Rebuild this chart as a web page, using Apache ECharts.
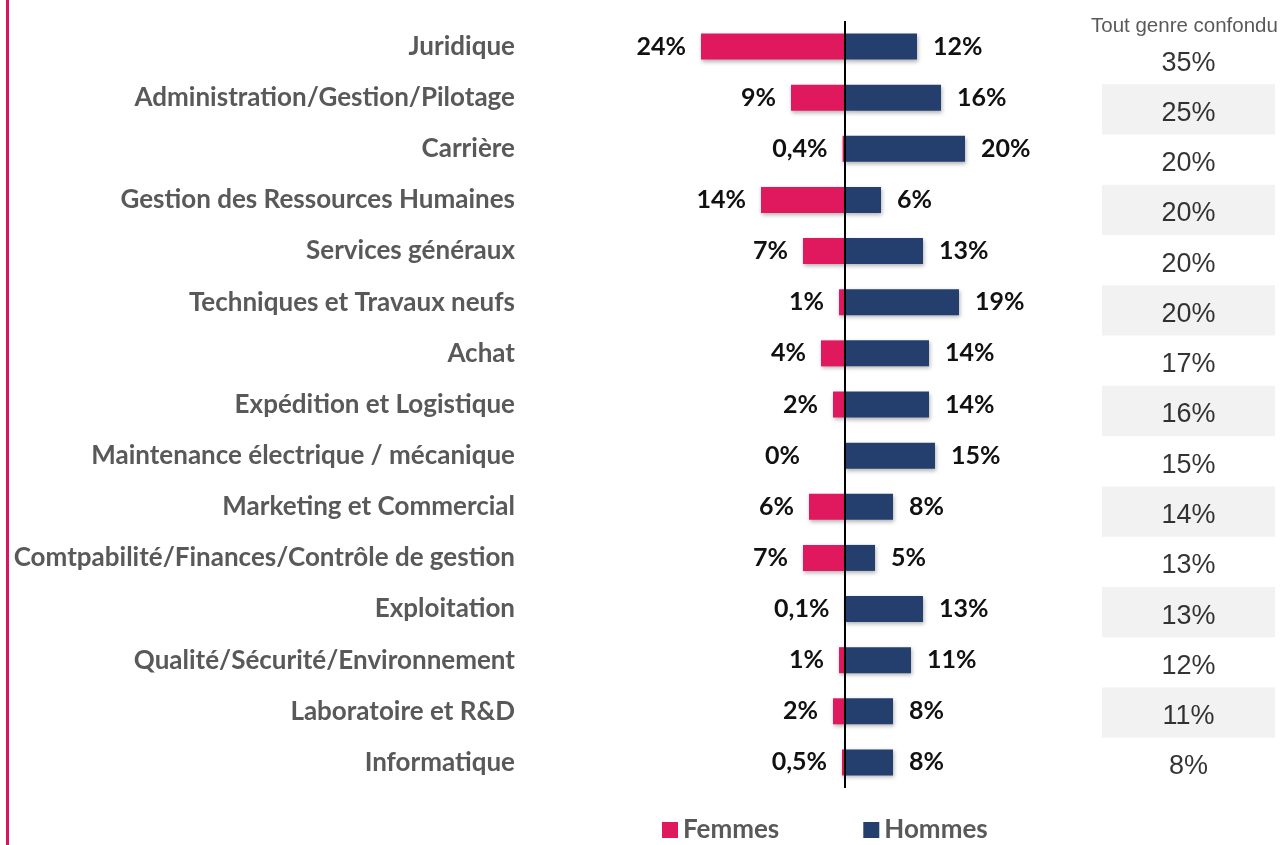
<!DOCTYPE html>
<html>
<head>
<meta charset="utf-8">
<title>Répartition par genre</title>
<script src="https://cdn.jsdelivr.net/npm/echarts@6/dist/echarts.min.js"></script>
<style>
  html, body { margin: 0; padding: 0; background: #fff; }
  #chart { width: 1286px; height: 845px; }
</style>
</head>
<body>
<div id="chart"></div>
<script>
// métiers, du haut vers le bas
var categories = [
  'Juridique',
  'Administration/Gestion/Pilotage',
  'Carrière',
  'Gestion des Ressources Humaines',
  'Services généraux',
  'Techniques et Travaux neufs',
  'Achat',
  'Expédition et Logistique',
  'Maintenance électrique / mécanique',
  'Marketing et Commercial',
  'Comtpabilité/Finances/Contrôle de gestion',
  'Exploitation',
  'Qualité/Sécurité/Environnement',
  'Laboratoire et R&D',
  'Informatique'
];
var femmes = [24, 9, 0.4, 14, 7, 1, 4, 2, 0, 6, 7, 0.1, 1, 2, 0.5];
var hommes = [12, 16, 20, 6, 13, 19, 14, 14, 15, 8, 5, 13, 11, 8, 8];
var toutGenre = [35, 25, 20, 20, 20, 20, 17, 16, 15, 14, 13, 13, 12, 11, 8];

var PINK = '#E0195F';
var NAVY = '#243F6E';

function pct(v) {
  return String(Math.abs(v)).replace('.', ',') + '%';
}

var barShadow = {
  shadowColor: 'rgba(0,0,0,0.3)',
  shadowBlur: 4,
  shadowOffsetX: 1,
  shadowOffsetY: 2
};

var myChart = echarts.init(document.getElementById('chart'));

var option = {
  animation: false,
  graphic: [{
    // liseré rose à gauche
    type: 'rect',
    left: 6,
    top: 0,
    shape: { width: 3, height: 845 },
    style: { fill: '#D6175E' },
    silent: true
  }],
  title: {
    text: 'Tout genre confondu',
    left: 1086,
    top: 11,
    textStyle: {
      fontFamily: 'Liberation Sans',
      fontWeight: 'normal',
      fontSize: 20.5,
      color: '#595959'
    }
  },
  legend: {
    left: 657,
    top: 812,
    itemWidth: 16,
    itemHeight: 16,
    itemGap: 84,
    icon: 'rect',
    textStyle: {
      fontFamily: 'Lato',
      fontWeight: 'bold',
      fontSize: 26,
      color: '#595959'
    },
    data: ['Femmes', 'Hommes']
  },
  grid: [
    { left: 545, width: 480, top: 21, height: 767 },
    { left: 1102, width: 173, top: 34, height: 754 }
  ],
  xAxis: [
    { gridIndex: 0, type: 'value', min: -50, max: 30, show: false },
    { gridIndex: 1, type: 'value', min: 0, max: 1, show: false }
  ],
  yAxis: [
    {
      gridIndex: 0,
      type: 'category',
      inverse: true,
      data: categories,
      axisLine: { show: false },
      axisTick: { show: false },
      splitLine: { show: false },
      axisLabel: {
        margin: 30,
        fontFamily: 'Lato',
        fontWeight: 'bold',
        fontSize: 26,
        color: '#595959'
      }
    },
    {
      gridIndex: 1,
      type: 'category',
      inverse: true,
      data: categories,
      axisLine: { show: false },
      axisTick: { show: false },
      axisLabel: { show: false },
      splitLine: { show: false },
      splitArea: {
        show: true,
        interval: 0,
        areaStyle: { color: ['rgba(255,255,255,0)', '#F2F2F2'] }
      }
    }
  ],
  series: [
    {
      name: 'Femmes',
      type: 'bar',
      stack: 'genre',
      barWidth: 26,
      data: femmes.map(function (v) {
        // le 0% est décalé vers la gauche dans l'original
        return v === 0 ? { value: -v, label: { distance: 45 } } : -v;
      }),
      itemStyle: Object.assign({ color: PINK }, barShadow),
      label: {
        show: true,
        position: 'left',
        distance: 15,
        formatter: function (p) { return pct(p.value); },
        fontFamily: 'Lato',
        fontWeight: 'bold',
        fontSize: 25,
        color: '#111'
      },
      markLine: {
        silent: true,
        symbol: 'none',
        label: { show: false },
        lineStyle: { color: '#000', width: 2, type: 'solid' },
        data: [{ xAxis: 0 }]
      }
    },
    {
      name: 'Hommes',
      type: 'bar',
      stack: 'genre',
      barWidth: 26,
      data: hommes,
      itemStyle: Object.assign({ color: NAVY }, barShadow),
      label: {
        show: true,
        position: 'right',
        distance: 16,
        formatter: function (p) { return pct(p.value); },
        fontFamily: 'Lato',
        fontWeight: 'bold',
        fontSize: 25,
        color: '#111'
      }
    },
    {
      name: 'Tout genre confondu',
      type: 'scatter',
      xAxisIndex: 1,
      yAxisIndex: 1,
      symbolSize: 0,
      silent: true,
      data: toutGenre.map(function (v, i) { return [0.5, i, v]; }),
      label: {
        show: true,
        position: 'inside',
        offset: [0, 4],
        formatter: function (p) { return pct(p.value[2]); },
        fontFamily: 'Liberation Sans',
        fontSize: 27,
        color: '#000'
      }
    }
  ]
};

myChart.setOption(option);
</script>
</body>
</html>
